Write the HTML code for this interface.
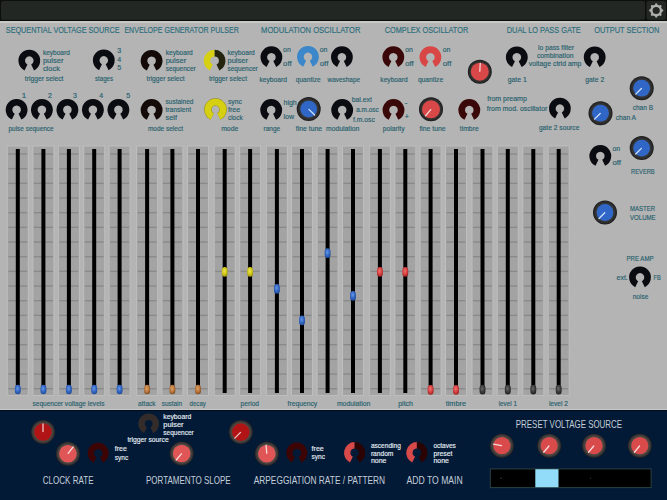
<!DOCTYPE html>
<html><head><meta charset="utf-8"><title>Synth</title>
<style>html,body{margin:0;padding:0;background:#b4b4b4;width:667px;height:500px;overflow:hidden}svg{display:block}text{font-family:"Liberation Sans",sans-serif}</style>
</head><body>
<svg width="667" height="500" viewBox="0 0 667 500" font-family='"Liberation Sans", sans-serif'><defs><radialGradient id="rg0" r="0.5"><stop offset="0.68" stop-color="#3a3939"/><stop offset="0.85" stop-color="#2f2e2e"/><stop offset="1" stop-color="#191919"/></radialGradient><radialGradient id="gb" cx="0.45" cy="0.4" r="0.62"><stop offset="0" stop-color="#6a98e4"/><stop offset="0.55" stop-color="#3468c4"/><stop offset="1" stop-color="#1e4a9a"/></radialGradient><radialGradient id="go" cx="0.45" cy="0.4" r="0.62"><stop offset="0" stop-color="#daa068"/><stop offset="0.55" stop-color="#bf7a3e"/><stop offset="1" stop-color="#7a4a22"/></radialGradient><radialGradient id="gy" cx="0.45" cy="0.4" r="0.62"><stop offset="0" stop-color="#ece650"/><stop offset="0.55" stop-color="#d2c81c"/><stop offset="1" stop-color="#9a9210"/></radialGradient><radialGradient id="gr" cx="0.45" cy="0.4" r="0.62"><stop offset="0" stop-color="#f07070"/><stop offset="0.55" stop-color="#d84444"/><stop offset="1" stop-color="#a02020"/></radialGradient><radialGradient id="gg" cx="0.45" cy="0.4" r="0.62"><stop offset="0" stop-color="#6a6a6a"/><stop offset="0.55" stop-color="#3c3c3c"/><stop offset="1" stop-color="#202020"/></radialGradient><radialGradient id="rg1" r="0.5"><stop offset="0.68" stop-color="#524d4b"/><stop offset="0.85" stop-color="#423e3c"/><stop offset="1" stop-color="#242221"/></radialGradient></defs><rect x="0" y="0" width="667" height="500" fill="#b4b4b4"/>
<rect x="0" y="0" width="667" height="21" fill="#0d0f0d"/>
<rect x="1" y="1" width="644" height="18.8" rx="2" fill="#232723"/>
<rect x="646.5" y="1" width="19.5" height="18.8" rx="2" fill="#232723"/>
<rect x="0" y="21.2" width="667" height="1.8" fill="#c9cbc9"/>
<circle cx="656.20" cy="4.50" r="1.15" fill="#aeb0ae"/><circle cx="660.44" cy="6.26" r="1.15" fill="#aeb0ae"/><circle cx="662.20" cy="10.50" r="1.15" fill="#aeb0ae"/><circle cx="660.44" cy="14.74" r="1.15" fill="#aeb0ae"/><circle cx="656.20" cy="16.50" r="1.15" fill="#aeb0ae"/><circle cx="651.96" cy="14.74" r="1.15" fill="#aeb0ae"/><circle cx="650.20" cy="10.50" r="1.15" fill="#aeb0ae"/><circle cx="651.96" cy="6.26" r="1.15" fill="#aeb0ae"/>
<circle cx="656.2" cy="10.5" r="4.75" fill="none" stroke="#aeb0ae" stroke-width="2.3"/>
<text x="5.8" y="32.9" font-size="9.0" fill="#2f6f7d" stroke="#2f6f7d" stroke-width="0.18" textLength="113.7" lengthAdjust="spacingAndGlyphs">SEQUENTIAL VOLTAGE SOURCE</text>
<text x="124.4" y="32.9" font-size="9.0" fill="#2f6f7d" stroke="#2f6f7d" stroke-width="0.18" textLength="114.4" lengthAdjust="spacingAndGlyphs">ENVELOPE GENERATOR PULSER</text>
<text x="261.1" y="32.9" font-size="9.0" fill="#2f6f7d" stroke="#2f6f7d" stroke-width="0.18" textLength="99.4" lengthAdjust="spacingAndGlyphs">MODULATION OSCILLATOR</text>
<text x="384.7" y="32.9" font-size="9.0" fill="#2f6f7d" stroke="#2f6f7d" stroke-width="0.18" textLength="83.5" lengthAdjust="spacingAndGlyphs">COMPLEX OSCILLATOR</text>
<text x="506.8" y="32.9" font-size="9.0" fill="#2f6f7d" stroke="#2f6f7d" stroke-width="0.18" textLength="73.9" lengthAdjust="spacingAndGlyphs">DUAL LO PASS GATE</text>
<text x="594.2" y="32.9" font-size="9.0" fill="#2f6f7d" stroke="#2f6f7d" stroke-width="0.18" textLength="65.2" lengthAdjust="spacingAndGlyphs">OUTPUT SECTION</text>
<path d="M25.97,67.43A7.60,7.60 0 1 1 32.63,67.43" fill="none" stroke="#0b0b12" stroke-width="6.60"/>
<text x="42.9" y="55.4" font-size="8" fill="#28616e" stroke="#28616e" stroke-width="0.18" textLength="26.9" lengthAdjust="spacingAndGlyphs">keyboard</text>
<text x="42.9" y="63.0" font-size="8" fill="#28616e" stroke="#28616e" stroke-width="0.18" textLength="20.5" lengthAdjust="spacingAndGlyphs">pulser</text>
<text x="42.9" y="70.6" font-size="8" fill="#28616e" stroke="#28616e" stroke-width="0.18" textLength="17.0" lengthAdjust="spacingAndGlyphs">clock</text>
<text x="24.8" y="80.8" font-size="8" fill="#28616e" stroke="#28616e" stroke-width="0.18" textLength="38.6" lengthAdjust="spacingAndGlyphs">trigger select</text>
<path d="M100.47,67.23A7.60,7.60 0 1 1 107.13,67.23" fill="none" stroke="#0b0b12" stroke-width="6.60"/>
<text x="117.3" y="53.2" font-size="8" fill="#28616e" stroke="#28616e" stroke-width="0.18" textLength="3.9" lengthAdjust="spacingAndGlyphs">3</text>
<text x="117.3" y="61.6" font-size="8" fill="#28616e" stroke="#28616e" stroke-width="0.18" textLength="3.9" lengthAdjust="spacingAndGlyphs">4</text>
<text x="117.3" y="69.8" font-size="8" fill="#28616e" stroke="#28616e" stroke-width="0.18" textLength="3.9" lengthAdjust="spacingAndGlyphs">5</text>
<text x="94.9" y="80.8" font-size="8" fill="#28616e" stroke="#28616e" stroke-width="0.18" textLength="18.2" lengthAdjust="spacingAndGlyphs">stages</text>
<path d="M13.27,116.63A7.60,7.60 0 1 1 19.93,116.63" fill="none" stroke="#0b0b12" stroke-width="6.60"/>
<path d="M38.57,116.63A7.60,7.60 0 1 1 45.23,116.63" fill="none" stroke="#0b0b12" stroke-width="6.60"/>
<path d="M64.07,116.63A7.60,7.60 0 1 1 70.73,116.63" fill="none" stroke="#0b0b12" stroke-width="6.60"/>
<path d="M89.57,116.63A7.60,7.60 0 1 1 96.23,116.63" fill="none" stroke="#0b0b12" stroke-width="6.60"/>
<path d="M115.07,116.63A7.60,7.60 0 1 1 121.73,116.63" fill="none" stroke="#0b0b12" stroke-width="6.60"/>
<text x="21.8" y="98.4" font-size="8" fill="#28616e" stroke="#28616e" stroke-width="0.18">1</text>
<text x="47.9" y="98.4" font-size="8" fill="#28616e" stroke="#28616e" stroke-width="0.18" textLength="3.9" lengthAdjust="spacingAndGlyphs">2</text>
<text x="73.0" y="98.4" font-size="8" fill="#28616e" stroke="#28616e" stroke-width="0.18" textLength="3.9" lengthAdjust="spacingAndGlyphs">3</text>
<text x="99.3" y="98.4" font-size="8" fill="#28616e" stroke="#28616e" stroke-width="0.18" textLength="3.9" lengthAdjust="spacingAndGlyphs">4</text>
<text x="126.2" y="98.4" font-size="8" fill="#28616e" stroke="#28616e" stroke-width="0.18" textLength="3.9" lengthAdjust="spacingAndGlyphs">5</text>
<text x="8.5" y="131.1" font-size="8" fill="#28616e" stroke="#28616e" stroke-width="0.18" textLength="45.1" lengthAdjust="spacingAndGlyphs">pulse sequence</text>
<path d="M148.27,67.63A7.60,7.60 0 1 1 154.93,67.63" fill="none" stroke="#140b08" stroke-width="6.60"/>
<text x="165.7" y="55.4" font-size="8" fill="#28616e" stroke="#28616e" stroke-width="0.18" textLength="27.1" lengthAdjust="spacingAndGlyphs">keyboard</text>
<text x="165.7" y="63.0" font-size="8" fill="#28616e" stroke="#28616e" stroke-width="0.18" textLength="20.5" lengthAdjust="spacingAndGlyphs">pulser</text>
<text x="165.7" y="70.6" font-size="8" fill="#28616e" stroke="#28616e" stroke-width="0.18" textLength="30.0" lengthAdjust="spacingAndGlyphs">sequencer</text>
<text x="146.6" y="80.8" font-size="8" fill="#28616e" stroke="#28616e" stroke-width="0.18" textLength="38.0" lengthAdjust="spacingAndGlyphs">trigger select</text>
<path d="M211.27,67.58A7.60,7.60 0 0 1 214.60,53.15" fill="none" stroke="#d6cf12" stroke-width="6.60"/>
<path d="M214.60,53.15A7.60,7.60 0 0 1 217.93,67.58" fill="none" stroke="#25250f" stroke-width="6.60"/>
<text x="227.5" y="55.4" font-size="8" fill="#28616e" stroke="#28616e" stroke-width="0.18" textLength="27.3" lengthAdjust="spacingAndGlyphs">keyboard</text>
<text x="227.5" y="63.0" font-size="8" fill="#28616e" stroke="#28616e" stroke-width="0.18" textLength="20.5" lengthAdjust="spacingAndGlyphs">pulser</text>
<text x="227.5" y="70.6" font-size="8" fill="#28616e" stroke="#28616e" stroke-width="0.18" textLength="30.2" lengthAdjust="spacingAndGlyphs">sequencer</text>
<text x="208.9" y="81.4" font-size="8" fill="#28616e" stroke="#28616e" stroke-width="0.18" textLength="38.1" lengthAdjust="spacingAndGlyphs">trigger select</text>
<path d="M148.27,116.83A7.60,7.60 0 1 1 154.93,116.83" fill="none" stroke="#140b08" stroke-width="6.60"/>
<text x="165.5" y="104.0" font-size="8" fill="#28616e" stroke="#28616e" stroke-width="0.18" textLength="27.9" lengthAdjust="spacingAndGlyphs">sustained</text>
<text x="165.5" y="111.8" font-size="8" fill="#28616e" stroke="#28616e" stroke-width="0.18" textLength="25.5" lengthAdjust="spacingAndGlyphs">transient</text>
<text x="165.5" y="119.6" font-size="8" fill="#28616e" stroke="#28616e" stroke-width="0.18" textLength="11.5" lengthAdjust="spacingAndGlyphs">self</text>
<text x="147.9" y="130.8" font-size="8" fill="#28616e" stroke="#28616e" stroke-width="0.18" textLength="35.1" lengthAdjust="spacingAndGlyphs">mode select</text>
<path d="M212.17,116.43A7.60,7.60 0 1 1 218.83,116.43" fill="none" stroke="#8a8a20" stroke-width="7.50"/>
<path d="M212.17,116.43A7.60,7.60 0 1 1 218.83,116.43" fill="none" stroke="#d6cf12" stroke-width="6.60"/>
<text x="227.9" y="104.0" font-size="8" fill="#28616e" stroke="#28616e" stroke-width="0.18" textLength="14.0" lengthAdjust="spacingAndGlyphs">sync</text>
<text x="227.9" y="111.8" font-size="8" fill="#28616e" stroke="#28616e" stroke-width="0.18" textLength="12.5" lengthAdjust="spacingAndGlyphs">free</text>
<text x="227.9" y="119.6" font-size="8" fill="#28616e" stroke="#28616e" stroke-width="0.18" textLength="14.8" lengthAdjust="spacingAndGlyphs">clock</text>
<text x="221.2" y="130.8" font-size="8" fill="#28616e" stroke="#28616e" stroke-width="0.18" textLength="17.0" lengthAdjust="spacingAndGlyphs">mode</text>
<path d="M268.07,64.03A7.60,7.60 0 1 1 274.73,64.03" fill="none" stroke="#0b0b12" stroke-width="6.60"/>
<text x="283.1" y="52.1" font-size="8" fill="#28616e" stroke="#28616e" stroke-width="0.18" textLength="7.6" lengthAdjust="spacingAndGlyphs">on</text>
<text x="283.1" y="66.1" font-size="8" fill="#28616e" stroke="#28616e" stroke-width="0.18" textLength="8.5" lengthAdjust="spacingAndGlyphs">off</text>
<path d="M304.62,63.68A7.60,7.60 0 1 1 311.28,63.68" fill="none" stroke="#3b87c9" stroke-width="6.60"/>
<text x="319.8" y="52.1" font-size="8" fill="#28616e" stroke="#28616e" stroke-width="0.18" textLength="7.6" lengthAdjust="spacingAndGlyphs">on</text>
<text x="319.8" y="66.1" font-size="8" fill="#28616e" stroke="#28616e" stroke-width="0.18" textLength="8.5" lengthAdjust="spacingAndGlyphs">off</text>
<path d="M338.57,64.03A7.60,7.60 0 1 1 345.23,64.03" fill="none" stroke="#0b0b12" stroke-width="6.60"/>
<text x="259.4" y="82.1" font-size="8" fill="#28616e" stroke="#28616e" stroke-width="0.18" textLength="27.6" lengthAdjust="spacingAndGlyphs">keyboard</text>
<text x="295.8" y="82.1" font-size="8" fill="#28616e" stroke="#28616e" stroke-width="0.18" textLength="24.8" lengthAdjust="spacingAndGlyphs">quantize</text>
<text x="327.6" y="82.1" font-size="8" fill="#28616e" stroke="#28616e" stroke-width="0.18" textLength="32.5" lengthAdjust="spacingAndGlyphs">waveshape</text>
<path d="M267.87,116.83A7.60,7.60 0 1 1 274.53,116.83" fill="none" stroke="#0b0b12" stroke-width="6.60"/>
<text x="283.5" y="105.3" font-size="8" fill="#28616e" stroke="#28616e" stroke-width="0.18" textLength="13.2" lengthAdjust="spacingAndGlyphs">high</text>
<text x="283.5" y="118.5" font-size="8" fill="#28616e" stroke="#28616e" stroke-width="0.18" textLength="10.6" lengthAdjust="spacingAndGlyphs">low</text>
<circle cx="308.7" cy="109.1" r="12.0" fill="url(#rg0)"/>
<circle cx="308.7" cy="109.1" r="8.4" fill="#3067c7"/>
<line x1="308.98" y1="109.38" x2="314.64" y2="115.04" stroke="#cfe0ff" stroke-width="1.3" stroke-linecap="round"/>
<path d="M338.87,116.83A7.60,7.60 0 1 1 345.53,116.83" fill="none" stroke="#0b0b12" stroke-width="6.60"/>
<text x="351.8" y="101.8" font-size="8" fill="#28616e" stroke="#28616e" stroke-width="0.18" textLength="20.0" lengthAdjust="spacingAndGlyphs">bal.ext</text>
<text x="356.2" y="112.1" font-size="8" fill="#28616e" stroke="#28616e" stroke-width="0.18" textLength="22.5" lengthAdjust="spacingAndGlyphs">a.m.osc</text>
<text x="352.9" y="121.5" font-size="8" fill="#28616e" stroke="#28616e" stroke-width="0.18" textLength="21.9" lengthAdjust="spacingAndGlyphs">f.m.osc</text>
<text x="263.6" y="130.8" font-size="8" fill="#28616e" stroke="#28616e" stroke-width="0.18" textLength="16.6" lengthAdjust="spacingAndGlyphs">range</text>
<text x="295.8" y="130.8" font-size="8" fill="#28616e" stroke="#28616e" stroke-width="0.18" textLength="26.3" lengthAdjust="spacingAndGlyphs">fine tune</text>
<text x="326.0" y="130.8" font-size="8" fill="#28616e" stroke="#28616e" stroke-width="0.18" textLength="33.2" lengthAdjust="spacingAndGlyphs">modulation</text>
<path d="M389.97,64.03A7.60,7.60 0 1 1 396.63,64.03" fill="none" stroke="#3a0808" stroke-width="6.60"/>
<text x="405.2" y="52.1" font-size="8" fill="#28616e" stroke="#28616e" stroke-width="0.18" textLength="7.6" lengthAdjust="spacingAndGlyphs">on</text>
<text x="405.2" y="66.1" font-size="8" fill="#28616e" stroke="#28616e" stroke-width="0.18" textLength="8.5" lengthAdjust="spacingAndGlyphs">off</text>
<path d="M427.07,64.03A7.60,7.60 0 1 1 433.73,64.03" fill="none" stroke="#d94646" stroke-width="6.60"/>
<text x="442.8" y="52.1" font-size="8" fill="#28616e" stroke="#28616e" stroke-width="0.18" textLength="7.6" lengthAdjust="spacingAndGlyphs">on</text>
<text x="442.8" y="66.1" font-size="8" fill="#28616e" stroke="#28616e" stroke-width="0.18" textLength="8.5" lengthAdjust="spacingAndGlyphs">off</text>
<circle cx="479.8" cy="71.7" r="12.0" fill="url(#rg0)"/>
<circle cx="479.8" cy="71.7" r="9.0" fill="#d94848"/>
<line x1="479.82" y1="71.30" x2="480.24" y2="63.31" stroke="#f6d6d6" stroke-width="1.3" stroke-linecap="round"/>
<text x="380.3" y="82.1" font-size="8" fill="#28616e" stroke="#28616e" stroke-width="0.18" textLength="27.4" lengthAdjust="spacingAndGlyphs">keyboard</text>
<text x="417.9" y="82.1" font-size="8" fill="#28616e" stroke="#28616e" stroke-width="0.18" textLength="25.3" lengthAdjust="spacingAndGlyphs">quantize</text>
<path d="M390.17,116.83A7.60,7.60 0 1 1 396.83,116.83" fill="none" stroke="#3a0808" stroke-width="6.60"/>
<text x="404.6" y="105.3" font-size="8" fill="#28616e" stroke="#28616e" stroke-width="0.18" textLength="3.0" lengthAdjust="spacingAndGlyphs">-</text>
<text x="404.4" y="119.4" font-size="8" fill="#28616e" stroke="#28616e" stroke-width="0.18" textLength="4.6" lengthAdjust="spacingAndGlyphs">+</text>
<circle cx="431" cy="109.3" r="12.0" fill="url(#rg0)"/>
<circle cx="431" cy="109.3" r="9.0" fill="#d94848"/>
<line x1="430.74" y1="109.61" x2="425.60" y2="115.73" stroke="#f6d6d6" stroke-width="1.3" stroke-linecap="round"/>
<path d="M465.97,116.83A7.60,7.60 0 1 1 472.63,116.83" fill="none" stroke="#3a0808" stroke-width="6.60"/>
<text x="382.8" y="130.6" font-size="8" fill="#28616e" stroke="#28616e" stroke-width="0.18" textLength="21.8" lengthAdjust="spacingAndGlyphs">polarity</text>
<text x="419.4" y="130.6" font-size="8" fill="#28616e" stroke="#28616e" stroke-width="0.18" textLength="26.2" lengthAdjust="spacingAndGlyphs">fine tune</text>
<text x="459.8" y="130.6" font-size="8" fill="#28616e" stroke="#28616e" stroke-width="0.18" textLength="18.9" lengthAdjust="spacingAndGlyphs">timbre</text>
<path d="M513.47,64.13A7.60,7.60 0 1 1 520.13,64.13" fill="none" stroke="#0b0b12" stroke-width="6.60"/>
<path d="M591.37,64.13A7.60,7.60 0 1 1 598.03,64.13" fill="none" stroke="#0b0b12" stroke-width="6.60"/>
<text x="538.1" y="50.4" font-size="8" fill="#28616e" stroke="#28616e" stroke-width="0.18" textLength="35.9" lengthAdjust="spacingAndGlyphs">lo pass filter</text>
<text x="536.9" y="58.2" font-size="8" fill="#28616e" stroke="#28616e" stroke-width="0.18" textLength="36.7" lengthAdjust="spacingAndGlyphs">combination</text>
<text x="528.7" y="66.4" font-size="8" fill="#28616e" stroke="#28616e" stroke-width="0.18" textLength="52.7" lengthAdjust="spacingAndGlyphs">voltage ctrld amp</text>
<text x="507.7" y="81.8" font-size="8" fill="#28616e" stroke="#28616e" stroke-width="0.18" textLength="19.1" lengthAdjust="spacingAndGlyphs">gate 1</text>
<text x="585.3" y="81.8" font-size="8" fill="#28616e" stroke="#28616e" stroke-width="0.18" textLength="18.9" lengthAdjust="spacingAndGlyphs">gate 2</text>
<text x="487.2" y="101.4" font-size="8" fill="#28616e" stroke="#28616e" stroke-width="0.18" textLength="39.6" lengthAdjust="spacingAndGlyphs">from preamp</text>
<text x="486.8" y="111.1" font-size="8" fill="#28616e" stroke="#28616e" stroke-width="0.18" textLength="60.5" lengthAdjust="spacingAndGlyphs">from mod. oscillator</text>
<path d="M556.57,115.43A7.60,7.60 0 1 1 563.23,115.43" fill="none" stroke="#0b0b12" stroke-width="6.60"/>
<text x="538.9" y="129.7" font-size="8" fill="#28616e" stroke="#28616e" stroke-width="0.18" textLength="40.5" lengthAdjust="spacingAndGlyphs">gate 2 source</text>
<circle cx="641.7" cy="88.2" r="12.0" fill="url(#rg0)"/>
<circle cx="641.7" cy="88.2" r="8.4" fill="#3067c7"/>
<line x1="641.42" y1="88.48" x2="635.76" y2="94.14" stroke="#cfe0ff" stroke-width="1.3" stroke-linecap="round"/>
<text x="632.7" y="110.0" font-size="8" fill="#28616e" stroke="#28616e" stroke-width="0.18" textLength="20.4" lengthAdjust="spacingAndGlyphs">chan B</text>
<circle cx="600.5" cy="113.2" r="12.0" fill="url(#rg0)"/>
<circle cx="600.5" cy="113.2" r="8.4" fill="#3067c7"/>
<line x1="600.22" y1="113.48" x2="594.56" y2="119.14" stroke="#cfe0ff" stroke-width="1.3" stroke-linecap="round"/>
<text x="615.7" y="120.3" font-size="8" fill="#28616e" stroke="#28616e" stroke-width="0.18" textLength="20.3" lengthAdjust="spacingAndGlyphs">chan A</text>
<path d="M596.97,162.83A7.60,7.60 0 1 1 603.63,162.83" fill="none" stroke="#0b0b12" stroke-width="6.60"/>
<text x="612.4" y="151.1" font-size="8" fill="#28616e" stroke="#28616e" stroke-width="0.18" textLength="7.6" lengthAdjust="spacingAndGlyphs">on</text>
<text x="612.4" y="165.0" font-size="8" fill="#28616e" stroke="#28616e" stroke-width="0.18" textLength="8.5" lengthAdjust="spacingAndGlyphs">off</text>
<circle cx="641.7" cy="148.1" r="12.0" fill="url(#rg0)"/>
<circle cx="641.7" cy="148.1" r="8.4" fill="#3067c7"/>
<line x1="641.42" y1="148.38" x2="635.76" y2="154.04" stroke="#cfe0ff" stroke-width="1.3" stroke-linecap="round"/>
<text x="631.1" y="174.3" font-size="8" fill="#28616e" stroke="#28616e" stroke-width="0.18" textLength="23.6" lengthAdjust="spacingAndGlyphs">REVERB</text>
<circle cx="605" cy="212.5" r="12.0" fill="url(#rg0)"/>
<circle cx="605" cy="212.5" r="8.4" fill="#3067c7"/>
<line x1="604.72" y1="212.78" x2="599.06" y2="218.44" stroke="#cfe0ff" stroke-width="1.3" stroke-linecap="round"/>
<text x="630.1" y="211.2" font-size="8" fill="#28616e" stroke="#28616e" stroke-width="0.18" textLength="24.9" lengthAdjust="spacingAndGlyphs">MASTER</text>
<text x="630.1" y="219.6" font-size="8" fill="#28616e" stroke="#28616e" stroke-width="0.18" textLength="25.5" lengthAdjust="spacingAndGlyphs">VOLUME</text>
<text x="626.5" y="261.4" font-size="8" fill="#28616e" stroke="#28616e" stroke-width="0.18" textLength="27.0" lengthAdjust="spacingAndGlyphs">PRE AMP</text>
<path d="M636.67,284.23A7.60,7.60 0 1 1 643.33,284.23" fill="none" stroke="#0b0b12" stroke-width="6.60"/>
<text x="616.6" y="280.1" font-size="8" fill="#28616e" stroke="#28616e" stroke-width="0.18" textLength="11.2" lengthAdjust="spacingAndGlyphs">ext.</text>
<text x="653.5" y="280.1" font-size="8" fill="#28616e" stroke="#28616e" stroke-width="0.18" textLength="7.3" lengthAdjust="spacingAndGlyphs">FB</text>
<text x="632.7" y="299.0" font-size="8" fill="#28616e" stroke="#28616e" stroke-width="0.18" textLength="15.6" lengthAdjust="spacingAndGlyphs">noise</text>
<rect x="6.80" y="145.5" width="22" height="250.5" fill="#bdbdbd"/>
<rect x="7.80" y="146.5" width="20" height="248.5" fill="#a3a3a3"/>
<rect x="8.30" y="153.30" width="19" height="1.4" fill="#8a8a8a"/>
<rect x="8.30" y="167.97" width="19" height="1.4" fill="#8a8a8a"/>
<rect x="8.30" y="182.64" width="19" height="1.4" fill="#8a8a8a"/>
<rect x="8.30" y="197.31" width="19" height="1.4" fill="#8a8a8a"/>
<rect x="8.30" y="211.98" width="19" height="1.4" fill="#8a8a8a"/>
<rect x="8.30" y="226.65" width="19" height="1.4" fill="#8a8a8a"/>
<rect x="8.30" y="241.32" width="19" height="1.4" fill="#8a8a8a"/>
<rect x="8.30" y="255.99" width="19" height="1.4" fill="#8a8a8a"/>
<rect x="8.30" y="270.66" width="19" height="1.4" fill="#8a8a8a"/>
<rect x="8.30" y="285.33" width="19" height="1.4" fill="#8a8a8a"/>
<rect x="8.30" y="300.00" width="19" height="1.4" fill="#8a8a8a"/>
<rect x="8.30" y="314.67" width="19" height="1.4" fill="#8a8a8a"/>
<rect x="8.30" y="329.34" width="19" height="1.4" fill="#8a8a8a"/>
<rect x="8.30" y="344.01" width="19" height="1.4" fill="#8a8a8a"/>
<rect x="8.30" y="358.68" width="19" height="1.4" fill="#8a8a8a"/>
<rect x="8.30" y="373.35" width="19" height="1.4" fill="#8a8a8a"/>
<rect x="8.30" y="388.02" width="19" height="1.4" fill="#8a8a8a"/>
<rect x="15.80" y="149" width="4" height="244" fill="#000"/>
<rect x="14.85" y="384.65" width="5.9" height="9.7" rx="2.9" ry="3.5" fill="url(#gb)"/>
<rect x="32.40" y="145.5" width="22" height="250.5" fill="#bdbdbd"/>
<rect x="33.40" y="146.5" width="20" height="248.5" fill="#a3a3a3"/>
<rect x="33.90" y="153.30" width="19" height="1.4" fill="#8a8a8a"/>
<rect x="33.90" y="167.97" width="19" height="1.4" fill="#8a8a8a"/>
<rect x="33.90" y="182.64" width="19" height="1.4" fill="#8a8a8a"/>
<rect x="33.90" y="197.31" width="19" height="1.4" fill="#8a8a8a"/>
<rect x="33.90" y="211.98" width="19" height="1.4" fill="#8a8a8a"/>
<rect x="33.90" y="226.65" width="19" height="1.4" fill="#8a8a8a"/>
<rect x="33.90" y="241.32" width="19" height="1.4" fill="#8a8a8a"/>
<rect x="33.90" y="255.99" width="19" height="1.4" fill="#8a8a8a"/>
<rect x="33.90" y="270.66" width="19" height="1.4" fill="#8a8a8a"/>
<rect x="33.90" y="285.33" width="19" height="1.4" fill="#8a8a8a"/>
<rect x="33.90" y="300.00" width="19" height="1.4" fill="#8a8a8a"/>
<rect x="33.90" y="314.67" width="19" height="1.4" fill="#8a8a8a"/>
<rect x="33.90" y="329.34" width="19" height="1.4" fill="#8a8a8a"/>
<rect x="33.90" y="344.01" width="19" height="1.4" fill="#8a8a8a"/>
<rect x="33.90" y="358.68" width="19" height="1.4" fill="#8a8a8a"/>
<rect x="33.90" y="373.35" width="19" height="1.4" fill="#8a8a8a"/>
<rect x="33.90" y="388.02" width="19" height="1.4" fill="#8a8a8a"/>
<rect x="41.40" y="149" width="4" height="244" fill="#000"/>
<rect x="40.45" y="384.65" width="5.9" height="9.7" rx="2.9" ry="3.5" fill="url(#gb)"/>
<rect x="57.90" y="145.5" width="22" height="250.5" fill="#bdbdbd"/>
<rect x="58.90" y="146.5" width="20" height="248.5" fill="#a3a3a3"/>
<rect x="59.40" y="153.30" width="19" height="1.4" fill="#8a8a8a"/>
<rect x="59.40" y="167.97" width="19" height="1.4" fill="#8a8a8a"/>
<rect x="59.40" y="182.64" width="19" height="1.4" fill="#8a8a8a"/>
<rect x="59.40" y="197.31" width="19" height="1.4" fill="#8a8a8a"/>
<rect x="59.40" y="211.98" width="19" height="1.4" fill="#8a8a8a"/>
<rect x="59.40" y="226.65" width="19" height="1.4" fill="#8a8a8a"/>
<rect x="59.40" y="241.32" width="19" height="1.4" fill="#8a8a8a"/>
<rect x="59.40" y="255.99" width="19" height="1.4" fill="#8a8a8a"/>
<rect x="59.40" y="270.66" width="19" height="1.4" fill="#8a8a8a"/>
<rect x="59.40" y="285.33" width="19" height="1.4" fill="#8a8a8a"/>
<rect x="59.40" y="300.00" width="19" height="1.4" fill="#8a8a8a"/>
<rect x="59.40" y="314.67" width="19" height="1.4" fill="#8a8a8a"/>
<rect x="59.40" y="329.34" width="19" height="1.4" fill="#8a8a8a"/>
<rect x="59.40" y="344.01" width="19" height="1.4" fill="#8a8a8a"/>
<rect x="59.40" y="358.68" width="19" height="1.4" fill="#8a8a8a"/>
<rect x="59.40" y="373.35" width="19" height="1.4" fill="#8a8a8a"/>
<rect x="59.40" y="388.02" width="19" height="1.4" fill="#8a8a8a"/>
<rect x="66.90" y="149" width="4" height="244" fill="#000"/>
<rect x="65.95" y="384.65" width="5.9" height="9.7" rx="2.9" ry="3.5" fill="url(#gb)"/>
<rect x="83.20" y="145.5" width="22" height="250.5" fill="#bdbdbd"/>
<rect x="84.20" y="146.5" width="20" height="248.5" fill="#a3a3a3"/>
<rect x="84.70" y="153.30" width="19" height="1.4" fill="#8a8a8a"/>
<rect x="84.70" y="167.97" width="19" height="1.4" fill="#8a8a8a"/>
<rect x="84.70" y="182.64" width="19" height="1.4" fill="#8a8a8a"/>
<rect x="84.70" y="197.31" width="19" height="1.4" fill="#8a8a8a"/>
<rect x="84.70" y="211.98" width="19" height="1.4" fill="#8a8a8a"/>
<rect x="84.70" y="226.65" width="19" height="1.4" fill="#8a8a8a"/>
<rect x="84.70" y="241.32" width="19" height="1.4" fill="#8a8a8a"/>
<rect x="84.70" y="255.99" width="19" height="1.4" fill="#8a8a8a"/>
<rect x="84.70" y="270.66" width="19" height="1.4" fill="#8a8a8a"/>
<rect x="84.70" y="285.33" width="19" height="1.4" fill="#8a8a8a"/>
<rect x="84.70" y="300.00" width="19" height="1.4" fill="#8a8a8a"/>
<rect x="84.70" y="314.67" width="19" height="1.4" fill="#8a8a8a"/>
<rect x="84.70" y="329.34" width="19" height="1.4" fill="#8a8a8a"/>
<rect x="84.70" y="344.01" width="19" height="1.4" fill="#8a8a8a"/>
<rect x="84.70" y="358.68" width="19" height="1.4" fill="#8a8a8a"/>
<rect x="84.70" y="373.35" width="19" height="1.4" fill="#8a8a8a"/>
<rect x="84.70" y="388.02" width="19" height="1.4" fill="#8a8a8a"/>
<rect x="92.20" y="149" width="4" height="244" fill="#000"/>
<rect x="91.25" y="384.65" width="5.9" height="9.7" rx="2.9" ry="3.5" fill="url(#gb)"/>
<rect x="108.60" y="145.5" width="22" height="250.5" fill="#bdbdbd"/>
<rect x="109.60" y="146.5" width="20" height="248.5" fill="#a3a3a3"/>
<rect x="110.10" y="153.30" width="19" height="1.4" fill="#8a8a8a"/>
<rect x="110.10" y="167.97" width="19" height="1.4" fill="#8a8a8a"/>
<rect x="110.10" y="182.64" width="19" height="1.4" fill="#8a8a8a"/>
<rect x="110.10" y="197.31" width="19" height="1.4" fill="#8a8a8a"/>
<rect x="110.10" y="211.98" width="19" height="1.4" fill="#8a8a8a"/>
<rect x="110.10" y="226.65" width="19" height="1.4" fill="#8a8a8a"/>
<rect x="110.10" y="241.32" width="19" height="1.4" fill="#8a8a8a"/>
<rect x="110.10" y="255.99" width="19" height="1.4" fill="#8a8a8a"/>
<rect x="110.10" y="270.66" width="19" height="1.4" fill="#8a8a8a"/>
<rect x="110.10" y="285.33" width="19" height="1.4" fill="#8a8a8a"/>
<rect x="110.10" y="300.00" width="19" height="1.4" fill="#8a8a8a"/>
<rect x="110.10" y="314.67" width="19" height="1.4" fill="#8a8a8a"/>
<rect x="110.10" y="329.34" width="19" height="1.4" fill="#8a8a8a"/>
<rect x="110.10" y="344.01" width="19" height="1.4" fill="#8a8a8a"/>
<rect x="110.10" y="358.68" width="19" height="1.4" fill="#8a8a8a"/>
<rect x="110.10" y="373.35" width="19" height="1.4" fill="#8a8a8a"/>
<rect x="110.10" y="388.02" width="19" height="1.4" fill="#8a8a8a"/>
<rect x="117.60" y="149" width="4" height="244" fill="#000"/>
<rect x="116.65" y="384.65" width="5.9" height="9.7" rx="2.9" ry="3.5" fill="url(#gb)"/>
<rect x="136.10" y="145.5" width="22" height="250.5" fill="#bdbdbd"/>
<rect x="137.10" y="146.5" width="20" height="248.5" fill="#a3a3a3"/>
<rect x="137.60" y="153.30" width="19" height="1.4" fill="#8a8a8a"/>
<rect x="137.60" y="167.97" width="19" height="1.4" fill="#8a8a8a"/>
<rect x="137.60" y="182.64" width="19" height="1.4" fill="#8a8a8a"/>
<rect x="137.60" y="197.31" width="19" height="1.4" fill="#8a8a8a"/>
<rect x="137.60" y="211.98" width="19" height="1.4" fill="#8a8a8a"/>
<rect x="137.60" y="226.65" width="19" height="1.4" fill="#8a8a8a"/>
<rect x="137.60" y="241.32" width="19" height="1.4" fill="#8a8a8a"/>
<rect x="137.60" y="255.99" width="19" height="1.4" fill="#8a8a8a"/>
<rect x="137.60" y="270.66" width="19" height="1.4" fill="#8a8a8a"/>
<rect x="137.60" y="285.33" width="19" height="1.4" fill="#8a8a8a"/>
<rect x="137.60" y="300.00" width="19" height="1.4" fill="#8a8a8a"/>
<rect x="137.60" y="314.67" width="19" height="1.4" fill="#8a8a8a"/>
<rect x="137.60" y="329.34" width="19" height="1.4" fill="#8a8a8a"/>
<rect x="137.60" y="344.01" width="19" height="1.4" fill="#8a8a8a"/>
<rect x="137.60" y="358.68" width="19" height="1.4" fill="#8a8a8a"/>
<rect x="137.60" y="373.35" width="19" height="1.4" fill="#8a8a8a"/>
<rect x="137.60" y="388.02" width="19" height="1.4" fill="#8a8a8a"/>
<rect x="145.10" y="149" width="4" height="244" fill="#000"/>
<rect x="144.15" y="384.65" width="5.9" height="9.7" rx="2.9" ry="3.5" fill="url(#go)"/>
<rect x="161.40" y="145.5" width="22" height="250.5" fill="#bdbdbd"/>
<rect x="162.40" y="146.5" width="20" height="248.5" fill="#a3a3a3"/>
<rect x="162.90" y="153.30" width="19" height="1.4" fill="#8a8a8a"/>
<rect x="162.90" y="167.97" width="19" height="1.4" fill="#8a8a8a"/>
<rect x="162.90" y="182.64" width="19" height="1.4" fill="#8a8a8a"/>
<rect x="162.90" y="197.31" width="19" height="1.4" fill="#8a8a8a"/>
<rect x="162.90" y="211.98" width="19" height="1.4" fill="#8a8a8a"/>
<rect x="162.90" y="226.65" width="19" height="1.4" fill="#8a8a8a"/>
<rect x="162.90" y="241.32" width="19" height="1.4" fill="#8a8a8a"/>
<rect x="162.90" y="255.99" width="19" height="1.4" fill="#8a8a8a"/>
<rect x="162.90" y="270.66" width="19" height="1.4" fill="#8a8a8a"/>
<rect x="162.90" y="285.33" width="19" height="1.4" fill="#8a8a8a"/>
<rect x="162.90" y="300.00" width="19" height="1.4" fill="#8a8a8a"/>
<rect x="162.90" y="314.67" width="19" height="1.4" fill="#8a8a8a"/>
<rect x="162.90" y="329.34" width="19" height="1.4" fill="#8a8a8a"/>
<rect x="162.90" y="344.01" width="19" height="1.4" fill="#8a8a8a"/>
<rect x="162.90" y="358.68" width="19" height="1.4" fill="#8a8a8a"/>
<rect x="162.90" y="373.35" width="19" height="1.4" fill="#8a8a8a"/>
<rect x="162.90" y="388.02" width="19" height="1.4" fill="#8a8a8a"/>
<rect x="170.40" y="149" width="4" height="244" fill="#000"/>
<rect x="169.45" y="384.65" width="5.9" height="9.7" rx="2.9" ry="3.5" fill="url(#go)"/>
<rect x="187.00" y="145.5" width="22" height="250.5" fill="#bdbdbd"/>
<rect x="188.00" y="146.5" width="20" height="248.5" fill="#a3a3a3"/>
<rect x="188.50" y="153.30" width="19" height="1.4" fill="#8a8a8a"/>
<rect x="188.50" y="167.97" width="19" height="1.4" fill="#8a8a8a"/>
<rect x="188.50" y="182.64" width="19" height="1.4" fill="#8a8a8a"/>
<rect x="188.50" y="197.31" width="19" height="1.4" fill="#8a8a8a"/>
<rect x="188.50" y="211.98" width="19" height="1.4" fill="#8a8a8a"/>
<rect x="188.50" y="226.65" width="19" height="1.4" fill="#8a8a8a"/>
<rect x="188.50" y="241.32" width="19" height="1.4" fill="#8a8a8a"/>
<rect x="188.50" y="255.99" width="19" height="1.4" fill="#8a8a8a"/>
<rect x="188.50" y="270.66" width="19" height="1.4" fill="#8a8a8a"/>
<rect x="188.50" y="285.33" width="19" height="1.4" fill="#8a8a8a"/>
<rect x="188.50" y="300.00" width="19" height="1.4" fill="#8a8a8a"/>
<rect x="188.50" y="314.67" width="19" height="1.4" fill="#8a8a8a"/>
<rect x="188.50" y="329.34" width="19" height="1.4" fill="#8a8a8a"/>
<rect x="188.50" y="344.01" width="19" height="1.4" fill="#8a8a8a"/>
<rect x="188.50" y="358.68" width="19" height="1.4" fill="#8a8a8a"/>
<rect x="188.50" y="373.35" width="19" height="1.4" fill="#8a8a8a"/>
<rect x="188.50" y="388.02" width="19" height="1.4" fill="#8a8a8a"/>
<rect x="196.00" y="149" width="4" height="244" fill="#000"/>
<rect x="195.05" y="384.65" width="5.9" height="9.7" rx="2.9" ry="3.5" fill="url(#go)"/>
<rect x="213.70" y="145.5" width="22" height="250.5" fill="#bdbdbd"/>
<rect x="214.70" y="146.5" width="20" height="248.5" fill="#a3a3a3"/>
<rect x="215.20" y="153.30" width="19" height="1.4" fill="#8a8a8a"/>
<rect x="215.20" y="167.97" width="19" height="1.4" fill="#8a8a8a"/>
<rect x="215.20" y="182.64" width="19" height="1.4" fill="#8a8a8a"/>
<rect x="215.20" y="197.31" width="19" height="1.4" fill="#8a8a8a"/>
<rect x="215.20" y="211.98" width="19" height="1.4" fill="#8a8a8a"/>
<rect x="215.20" y="226.65" width="19" height="1.4" fill="#8a8a8a"/>
<rect x="215.20" y="241.32" width="19" height="1.4" fill="#8a8a8a"/>
<rect x="215.20" y="255.99" width="19" height="1.4" fill="#8a8a8a"/>
<rect x="215.20" y="270.66" width="19" height="1.4" fill="#8a8a8a"/>
<rect x="215.20" y="285.33" width="19" height="1.4" fill="#8a8a8a"/>
<rect x="215.20" y="300.00" width="19" height="1.4" fill="#8a8a8a"/>
<rect x="215.20" y="314.67" width="19" height="1.4" fill="#8a8a8a"/>
<rect x="215.20" y="329.34" width="19" height="1.4" fill="#8a8a8a"/>
<rect x="215.20" y="344.01" width="19" height="1.4" fill="#8a8a8a"/>
<rect x="215.20" y="358.68" width="19" height="1.4" fill="#8a8a8a"/>
<rect x="215.20" y="373.35" width="19" height="1.4" fill="#8a8a8a"/>
<rect x="215.20" y="388.02" width="19" height="1.4" fill="#8a8a8a"/>
<rect x="222.70" y="149" width="4" height="244" fill="#000"/>
<rect x="221.75" y="267.05" width="5.9" height="9.7" rx="2.9" ry="3.5" fill="url(#gy)"/>
<rect x="239.10" y="145.5" width="22" height="250.5" fill="#bdbdbd"/>
<rect x="240.10" y="146.5" width="20" height="248.5" fill="#a3a3a3"/>
<rect x="240.60" y="153.30" width="19" height="1.4" fill="#8a8a8a"/>
<rect x="240.60" y="167.97" width="19" height="1.4" fill="#8a8a8a"/>
<rect x="240.60" y="182.64" width="19" height="1.4" fill="#8a8a8a"/>
<rect x="240.60" y="197.31" width="19" height="1.4" fill="#8a8a8a"/>
<rect x="240.60" y="211.98" width="19" height="1.4" fill="#8a8a8a"/>
<rect x="240.60" y="226.65" width="19" height="1.4" fill="#8a8a8a"/>
<rect x="240.60" y="241.32" width="19" height="1.4" fill="#8a8a8a"/>
<rect x="240.60" y="255.99" width="19" height="1.4" fill="#8a8a8a"/>
<rect x="240.60" y="270.66" width="19" height="1.4" fill="#8a8a8a"/>
<rect x="240.60" y="285.33" width="19" height="1.4" fill="#8a8a8a"/>
<rect x="240.60" y="300.00" width="19" height="1.4" fill="#8a8a8a"/>
<rect x="240.60" y="314.67" width="19" height="1.4" fill="#8a8a8a"/>
<rect x="240.60" y="329.34" width="19" height="1.4" fill="#8a8a8a"/>
<rect x="240.60" y="344.01" width="19" height="1.4" fill="#8a8a8a"/>
<rect x="240.60" y="358.68" width="19" height="1.4" fill="#8a8a8a"/>
<rect x="240.60" y="373.35" width="19" height="1.4" fill="#8a8a8a"/>
<rect x="240.60" y="388.02" width="19" height="1.4" fill="#8a8a8a"/>
<rect x="248.10" y="149" width="4" height="244" fill="#000"/>
<rect x="247.15" y="267.05" width="5.9" height="9.7" rx="2.9" ry="3.5" fill="url(#gy)"/>
<rect x="265.90" y="145.5" width="22" height="250.5" fill="#bdbdbd"/>
<rect x="266.90" y="146.5" width="20" height="248.5" fill="#a3a3a3"/>
<rect x="267.40" y="153.30" width="19" height="1.4" fill="#8a8a8a"/>
<rect x="267.40" y="167.97" width="19" height="1.4" fill="#8a8a8a"/>
<rect x="267.40" y="182.64" width="19" height="1.4" fill="#8a8a8a"/>
<rect x="267.40" y="197.31" width="19" height="1.4" fill="#8a8a8a"/>
<rect x="267.40" y="211.98" width="19" height="1.4" fill="#8a8a8a"/>
<rect x="267.40" y="226.65" width="19" height="1.4" fill="#8a8a8a"/>
<rect x="267.40" y="241.32" width="19" height="1.4" fill="#8a8a8a"/>
<rect x="267.40" y="255.99" width="19" height="1.4" fill="#8a8a8a"/>
<rect x="267.40" y="270.66" width="19" height="1.4" fill="#8a8a8a"/>
<rect x="267.40" y="285.33" width="19" height="1.4" fill="#8a8a8a"/>
<rect x="267.40" y="300.00" width="19" height="1.4" fill="#8a8a8a"/>
<rect x="267.40" y="314.67" width="19" height="1.4" fill="#8a8a8a"/>
<rect x="267.40" y="329.34" width="19" height="1.4" fill="#8a8a8a"/>
<rect x="267.40" y="344.01" width="19" height="1.4" fill="#8a8a8a"/>
<rect x="267.40" y="358.68" width="19" height="1.4" fill="#8a8a8a"/>
<rect x="267.40" y="373.35" width="19" height="1.4" fill="#8a8a8a"/>
<rect x="267.40" y="388.02" width="19" height="1.4" fill="#8a8a8a"/>
<rect x="274.90" y="149" width="4" height="244" fill="#000"/>
<rect x="273.95" y="284.05" width="5.9" height="9.7" rx="2.9" ry="3.5" fill="url(#gb)"/>
<rect x="291.00" y="145.5" width="22" height="250.5" fill="#bdbdbd"/>
<rect x="292.00" y="146.5" width="20" height="248.5" fill="#a3a3a3"/>
<rect x="292.50" y="153.30" width="19" height="1.4" fill="#8a8a8a"/>
<rect x="292.50" y="167.97" width="19" height="1.4" fill="#8a8a8a"/>
<rect x="292.50" y="182.64" width="19" height="1.4" fill="#8a8a8a"/>
<rect x="292.50" y="197.31" width="19" height="1.4" fill="#8a8a8a"/>
<rect x="292.50" y="211.98" width="19" height="1.4" fill="#8a8a8a"/>
<rect x="292.50" y="226.65" width="19" height="1.4" fill="#8a8a8a"/>
<rect x="292.50" y="241.32" width="19" height="1.4" fill="#8a8a8a"/>
<rect x="292.50" y="255.99" width="19" height="1.4" fill="#8a8a8a"/>
<rect x="292.50" y="270.66" width="19" height="1.4" fill="#8a8a8a"/>
<rect x="292.50" y="285.33" width="19" height="1.4" fill="#8a8a8a"/>
<rect x="292.50" y="300.00" width="19" height="1.4" fill="#8a8a8a"/>
<rect x="292.50" y="314.67" width="19" height="1.4" fill="#8a8a8a"/>
<rect x="292.50" y="329.34" width="19" height="1.4" fill="#8a8a8a"/>
<rect x="292.50" y="344.01" width="19" height="1.4" fill="#8a8a8a"/>
<rect x="292.50" y="358.68" width="19" height="1.4" fill="#8a8a8a"/>
<rect x="292.50" y="373.35" width="19" height="1.4" fill="#8a8a8a"/>
<rect x="292.50" y="388.02" width="19" height="1.4" fill="#8a8a8a"/>
<rect x="300.00" y="149" width="4" height="244" fill="#000"/>
<rect x="299.05" y="315.55" width="5.9" height="9.7" rx="2.9" ry="3.5" fill="url(#gb)"/>
<rect x="316.60" y="145.5" width="22" height="250.5" fill="#bdbdbd"/>
<rect x="317.60" y="146.5" width="20" height="248.5" fill="#a3a3a3"/>
<rect x="318.10" y="153.30" width="19" height="1.4" fill="#8a8a8a"/>
<rect x="318.10" y="167.97" width="19" height="1.4" fill="#8a8a8a"/>
<rect x="318.10" y="182.64" width="19" height="1.4" fill="#8a8a8a"/>
<rect x="318.10" y="197.31" width="19" height="1.4" fill="#8a8a8a"/>
<rect x="318.10" y="211.98" width="19" height="1.4" fill="#8a8a8a"/>
<rect x="318.10" y="226.65" width="19" height="1.4" fill="#8a8a8a"/>
<rect x="318.10" y="241.32" width="19" height="1.4" fill="#8a8a8a"/>
<rect x="318.10" y="255.99" width="19" height="1.4" fill="#8a8a8a"/>
<rect x="318.10" y="270.66" width="19" height="1.4" fill="#8a8a8a"/>
<rect x="318.10" y="285.33" width="19" height="1.4" fill="#8a8a8a"/>
<rect x="318.10" y="300.00" width="19" height="1.4" fill="#8a8a8a"/>
<rect x="318.10" y="314.67" width="19" height="1.4" fill="#8a8a8a"/>
<rect x="318.10" y="329.34" width="19" height="1.4" fill="#8a8a8a"/>
<rect x="318.10" y="344.01" width="19" height="1.4" fill="#8a8a8a"/>
<rect x="318.10" y="358.68" width="19" height="1.4" fill="#8a8a8a"/>
<rect x="318.10" y="373.35" width="19" height="1.4" fill="#8a8a8a"/>
<rect x="318.10" y="388.02" width="19" height="1.4" fill="#8a8a8a"/>
<rect x="325.60" y="149" width="4" height="244" fill="#000"/>
<rect x="324.65" y="248.35" width="5.9" height="9.7" rx="2.9" ry="3.5" fill="url(#gb)"/>
<rect x="342.00" y="145.5" width="22" height="250.5" fill="#bdbdbd"/>
<rect x="343.00" y="146.5" width="20" height="248.5" fill="#a3a3a3"/>
<rect x="343.50" y="153.30" width="19" height="1.4" fill="#8a8a8a"/>
<rect x="343.50" y="167.97" width="19" height="1.4" fill="#8a8a8a"/>
<rect x="343.50" y="182.64" width="19" height="1.4" fill="#8a8a8a"/>
<rect x="343.50" y="197.31" width="19" height="1.4" fill="#8a8a8a"/>
<rect x="343.50" y="211.98" width="19" height="1.4" fill="#8a8a8a"/>
<rect x="343.50" y="226.65" width="19" height="1.4" fill="#8a8a8a"/>
<rect x="343.50" y="241.32" width="19" height="1.4" fill="#8a8a8a"/>
<rect x="343.50" y="255.99" width="19" height="1.4" fill="#8a8a8a"/>
<rect x="343.50" y="270.66" width="19" height="1.4" fill="#8a8a8a"/>
<rect x="343.50" y="285.33" width="19" height="1.4" fill="#8a8a8a"/>
<rect x="343.50" y="300.00" width="19" height="1.4" fill="#8a8a8a"/>
<rect x="343.50" y="314.67" width="19" height="1.4" fill="#8a8a8a"/>
<rect x="343.50" y="329.34" width="19" height="1.4" fill="#8a8a8a"/>
<rect x="343.50" y="344.01" width="19" height="1.4" fill="#8a8a8a"/>
<rect x="343.50" y="358.68" width="19" height="1.4" fill="#8a8a8a"/>
<rect x="343.50" y="373.35" width="19" height="1.4" fill="#8a8a8a"/>
<rect x="343.50" y="388.02" width="19" height="1.4" fill="#8a8a8a"/>
<rect x="351.00" y="149" width="4" height="244" fill="#000"/>
<rect x="350.05" y="290.95" width="5.9" height="9.7" rx="2.9" ry="3.5" fill="url(#gb)"/>
<rect x="368.90" y="145.5" width="22" height="250.5" fill="#bdbdbd"/>
<rect x="369.90" y="146.5" width="20" height="248.5" fill="#a3a3a3"/>
<rect x="370.40" y="153.30" width="19" height="1.4" fill="#8a8a8a"/>
<rect x="370.40" y="167.97" width="19" height="1.4" fill="#8a8a8a"/>
<rect x="370.40" y="182.64" width="19" height="1.4" fill="#8a8a8a"/>
<rect x="370.40" y="197.31" width="19" height="1.4" fill="#8a8a8a"/>
<rect x="370.40" y="211.98" width="19" height="1.4" fill="#8a8a8a"/>
<rect x="370.40" y="226.65" width="19" height="1.4" fill="#8a8a8a"/>
<rect x="370.40" y="241.32" width="19" height="1.4" fill="#8a8a8a"/>
<rect x="370.40" y="255.99" width="19" height="1.4" fill="#8a8a8a"/>
<rect x="370.40" y="270.66" width="19" height="1.4" fill="#8a8a8a"/>
<rect x="370.40" y="285.33" width="19" height="1.4" fill="#8a8a8a"/>
<rect x="370.40" y="300.00" width="19" height="1.4" fill="#8a8a8a"/>
<rect x="370.40" y="314.67" width="19" height="1.4" fill="#8a8a8a"/>
<rect x="370.40" y="329.34" width="19" height="1.4" fill="#8a8a8a"/>
<rect x="370.40" y="344.01" width="19" height="1.4" fill="#8a8a8a"/>
<rect x="370.40" y="358.68" width="19" height="1.4" fill="#8a8a8a"/>
<rect x="370.40" y="373.35" width="19" height="1.4" fill="#8a8a8a"/>
<rect x="370.40" y="388.02" width="19" height="1.4" fill="#8a8a8a"/>
<rect x="377.90" y="149" width="4" height="244" fill="#000"/>
<rect x="376.95" y="267.05" width="5.9" height="9.7" rx="2.9" ry="3.5" fill="url(#gr)"/>
<rect x="394.30" y="145.5" width="22" height="250.5" fill="#bdbdbd"/>
<rect x="395.30" y="146.5" width="20" height="248.5" fill="#a3a3a3"/>
<rect x="395.80" y="153.30" width="19" height="1.4" fill="#8a8a8a"/>
<rect x="395.80" y="167.97" width="19" height="1.4" fill="#8a8a8a"/>
<rect x="395.80" y="182.64" width="19" height="1.4" fill="#8a8a8a"/>
<rect x="395.80" y="197.31" width="19" height="1.4" fill="#8a8a8a"/>
<rect x="395.80" y="211.98" width="19" height="1.4" fill="#8a8a8a"/>
<rect x="395.80" y="226.65" width="19" height="1.4" fill="#8a8a8a"/>
<rect x="395.80" y="241.32" width="19" height="1.4" fill="#8a8a8a"/>
<rect x="395.80" y="255.99" width="19" height="1.4" fill="#8a8a8a"/>
<rect x="395.80" y="270.66" width="19" height="1.4" fill="#8a8a8a"/>
<rect x="395.80" y="285.33" width="19" height="1.4" fill="#8a8a8a"/>
<rect x="395.80" y="300.00" width="19" height="1.4" fill="#8a8a8a"/>
<rect x="395.80" y="314.67" width="19" height="1.4" fill="#8a8a8a"/>
<rect x="395.80" y="329.34" width="19" height="1.4" fill="#8a8a8a"/>
<rect x="395.80" y="344.01" width="19" height="1.4" fill="#8a8a8a"/>
<rect x="395.80" y="358.68" width="19" height="1.4" fill="#8a8a8a"/>
<rect x="395.80" y="373.35" width="19" height="1.4" fill="#8a8a8a"/>
<rect x="395.80" y="388.02" width="19" height="1.4" fill="#8a8a8a"/>
<rect x="403.30" y="149" width="4" height="244" fill="#000"/>
<rect x="402.35" y="267.05" width="5.9" height="9.7" rx="2.9" ry="3.5" fill="url(#gr)"/>
<rect x="419.60" y="145.5" width="22" height="250.5" fill="#bdbdbd"/>
<rect x="420.60" y="146.5" width="20" height="248.5" fill="#a3a3a3"/>
<rect x="421.10" y="153.30" width="19" height="1.4" fill="#8a8a8a"/>
<rect x="421.10" y="167.97" width="19" height="1.4" fill="#8a8a8a"/>
<rect x="421.10" y="182.64" width="19" height="1.4" fill="#8a8a8a"/>
<rect x="421.10" y="197.31" width="19" height="1.4" fill="#8a8a8a"/>
<rect x="421.10" y="211.98" width="19" height="1.4" fill="#8a8a8a"/>
<rect x="421.10" y="226.65" width="19" height="1.4" fill="#8a8a8a"/>
<rect x="421.10" y="241.32" width="19" height="1.4" fill="#8a8a8a"/>
<rect x="421.10" y="255.99" width="19" height="1.4" fill="#8a8a8a"/>
<rect x="421.10" y="270.66" width="19" height="1.4" fill="#8a8a8a"/>
<rect x="421.10" y="285.33" width="19" height="1.4" fill="#8a8a8a"/>
<rect x="421.10" y="300.00" width="19" height="1.4" fill="#8a8a8a"/>
<rect x="421.10" y="314.67" width="19" height="1.4" fill="#8a8a8a"/>
<rect x="421.10" y="329.34" width="19" height="1.4" fill="#8a8a8a"/>
<rect x="421.10" y="344.01" width="19" height="1.4" fill="#8a8a8a"/>
<rect x="421.10" y="358.68" width="19" height="1.4" fill="#8a8a8a"/>
<rect x="421.10" y="373.35" width="19" height="1.4" fill="#8a8a8a"/>
<rect x="421.10" y="388.02" width="19" height="1.4" fill="#8a8a8a"/>
<rect x="428.60" y="149" width="4" height="244" fill="#000"/>
<rect x="427.65" y="384.95" width="5.9" height="9.7" rx="2.9" ry="3.5" fill="url(#gr)"/>
<rect x="445.00" y="145.5" width="22" height="250.5" fill="#bdbdbd"/>
<rect x="446.00" y="146.5" width="20" height="248.5" fill="#a3a3a3"/>
<rect x="446.50" y="153.30" width="19" height="1.4" fill="#8a8a8a"/>
<rect x="446.50" y="167.97" width="19" height="1.4" fill="#8a8a8a"/>
<rect x="446.50" y="182.64" width="19" height="1.4" fill="#8a8a8a"/>
<rect x="446.50" y="197.31" width="19" height="1.4" fill="#8a8a8a"/>
<rect x="446.50" y="211.98" width="19" height="1.4" fill="#8a8a8a"/>
<rect x="446.50" y="226.65" width="19" height="1.4" fill="#8a8a8a"/>
<rect x="446.50" y="241.32" width="19" height="1.4" fill="#8a8a8a"/>
<rect x="446.50" y="255.99" width="19" height="1.4" fill="#8a8a8a"/>
<rect x="446.50" y="270.66" width="19" height="1.4" fill="#8a8a8a"/>
<rect x="446.50" y="285.33" width="19" height="1.4" fill="#8a8a8a"/>
<rect x="446.50" y="300.00" width="19" height="1.4" fill="#8a8a8a"/>
<rect x="446.50" y="314.67" width="19" height="1.4" fill="#8a8a8a"/>
<rect x="446.50" y="329.34" width="19" height="1.4" fill="#8a8a8a"/>
<rect x="446.50" y="344.01" width="19" height="1.4" fill="#8a8a8a"/>
<rect x="446.50" y="358.68" width="19" height="1.4" fill="#8a8a8a"/>
<rect x="446.50" y="373.35" width="19" height="1.4" fill="#8a8a8a"/>
<rect x="446.50" y="388.02" width="19" height="1.4" fill="#8a8a8a"/>
<rect x="454.00" y="149" width="4" height="244" fill="#000"/>
<rect x="453.05" y="384.95" width="5.9" height="9.7" rx="2.9" ry="3.5" fill="url(#gr)"/>
<rect x="471.50" y="145.5" width="22" height="250.5" fill="#bdbdbd"/>
<rect x="472.50" y="146.5" width="20" height="248.5" fill="#a3a3a3"/>
<rect x="473.00" y="153.30" width="19" height="1.4" fill="#8a8a8a"/>
<rect x="473.00" y="167.97" width="19" height="1.4" fill="#8a8a8a"/>
<rect x="473.00" y="182.64" width="19" height="1.4" fill="#8a8a8a"/>
<rect x="473.00" y="197.31" width="19" height="1.4" fill="#8a8a8a"/>
<rect x="473.00" y="211.98" width="19" height="1.4" fill="#8a8a8a"/>
<rect x="473.00" y="226.65" width="19" height="1.4" fill="#8a8a8a"/>
<rect x="473.00" y="241.32" width="19" height="1.4" fill="#8a8a8a"/>
<rect x="473.00" y="255.99" width="19" height="1.4" fill="#8a8a8a"/>
<rect x="473.00" y="270.66" width="19" height="1.4" fill="#8a8a8a"/>
<rect x="473.00" y="285.33" width="19" height="1.4" fill="#8a8a8a"/>
<rect x="473.00" y="300.00" width="19" height="1.4" fill="#8a8a8a"/>
<rect x="473.00" y="314.67" width="19" height="1.4" fill="#8a8a8a"/>
<rect x="473.00" y="329.34" width="19" height="1.4" fill="#8a8a8a"/>
<rect x="473.00" y="344.01" width="19" height="1.4" fill="#8a8a8a"/>
<rect x="473.00" y="358.68" width="19" height="1.4" fill="#8a8a8a"/>
<rect x="473.00" y="373.35" width="19" height="1.4" fill="#8a8a8a"/>
<rect x="473.00" y="388.02" width="19" height="1.4" fill="#8a8a8a"/>
<rect x="480.50" y="149" width="4" height="244" fill="#000"/>
<rect x="479.55" y="384.75" width="5.9" height="9.7" rx="2.9" ry="3.5" fill="url(#gg)"/>
<rect x="496.80" y="145.5" width="22" height="250.5" fill="#bdbdbd"/>
<rect x="497.80" y="146.5" width="20" height="248.5" fill="#a3a3a3"/>
<rect x="498.30" y="153.30" width="19" height="1.4" fill="#8a8a8a"/>
<rect x="498.30" y="167.97" width="19" height="1.4" fill="#8a8a8a"/>
<rect x="498.30" y="182.64" width="19" height="1.4" fill="#8a8a8a"/>
<rect x="498.30" y="197.31" width="19" height="1.4" fill="#8a8a8a"/>
<rect x="498.30" y="211.98" width="19" height="1.4" fill="#8a8a8a"/>
<rect x="498.30" y="226.65" width="19" height="1.4" fill="#8a8a8a"/>
<rect x="498.30" y="241.32" width="19" height="1.4" fill="#8a8a8a"/>
<rect x="498.30" y="255.99" width="19" height="1.4" fill="#8a8a8a"/>
<rect x="498.30" y="270.66" width="19" height="1.4" fill="#8a8a8a"/>
<rect x="498.30" y="285.33" width="19" height="1.4" fill="#8a8a8a"/>
<rect x="498.30" y="300.00" width="19" height="1.4" fill="#8a8a8a"/>
<rect x="498.30" y="314.67" width="19" height="1.4" fill="#8a8a8a"/>
<rect x="498.30" y="329.34" width="19" height="1.4" fill="#8a8a8a"/>
<rect x="498.30" y="344.01" width="19" height="1.4" fill="#8a8a8a"/>
<rect x="498.30" y="358.68" width="19" height="1.4" fill="#8a8a8a"/>
<rect x="498.30" y="373.35" width="19" height="1.4" fill="#8a8a8a"/>
<rect x="498.30" y="388.02" width="19" height="1.4" fill="#8a8a8a"/>
<rect x="505.80" y="149" width="4" height="244" fill="#000"/>
<rect x="504.85" y="384.75" width="5.9" height="9.7" rx="2.9" ry="3.5" fill="url(#gg)"/>
<rect x="522.30" y="145.5" width="22" height="250.5" fill="#bdbdbd"/>
<rect x="523.30" y="146.5" width="20" height="248.5" fill="#a3a3a3"/>
<rect x="523.80" y="153.30" width="19" height="1.4" fill="#8a8a8a"/>
<rect x="523.80" y="167.97" width="19" height="1.4" fill="#8a8a8a"/>
<rect x="523.80" y="182.64" width="19" height="1.4" fill="#8a8a8a"/>
<rect x="523.80" y="197.31" width="19" height="1.4" fill="#8a8a8a"/>
<rect x="523.80" y="211.98" width="19" height="1.4" fill="#8a8a8a"/>
<rect x="523.80" y="226.65" width="19" height="1.4" fill="#8a8a8a"/>
<rect x="523.80" y="241.32" width="19" height="1.4" fill="#8a8a8a"/>
<rect x="523.80" y="255.99" width="19" height="1.4" fill="#8a8a8a"/>
<rect x="523.80" y="270.66" width="19" height="1.4" fill="#8a8a8a"/>
<rect x="523.80" y="285.33" width="19" height="1.4" fill="#8a8a8a"/>
<rect x="523.80" y="300.00" width="19" height="1.4" fill="#8a8a8a"/>
<rect x="523.80" y="314.67" width="19" height="1.4" fill="#8a8a8a"/>
<rect x="523.80" y="329.34" width="19" height="1.4" fill="#8a8a8a"/>
<rect x="523.80" y="344.01" width="19" height="1.4" fill="#8a8a8a"/>
<rect x="523.80" y="358.68" width="19" height="1.4" fill="#8a8a8a"/>
<rect x="523.80" y="373.35" width="19" height="1.4" fill="#8a8a8a"/>
<rect x="523.80" y="388.02" width="19" height="1.4" fill="#8a8a8a"/>
<rect x="531.30" y="149" width="4" height="244" fill="#000"/>
<rect x="530.35" y="384.75" width="5.9" height="9.7" rx="2.9" ry="3.5" fill="url(#gg)"/>
<rect x="547.70" y="145.5" width="22" height="250.5" fill="#bdbdbd"/>
<rect x="548.70" y="146.5" width="20" height="248.5" fill="#a3a3a3"/>
<rect x="549.20" y="153.30" width="19" height="1.4" fill="#8a8a8a"/>
<rect x="549.20" y="167.97" width="19" height="1.4" fill="#8a8a8a"/>
<rect x="549.20" y="182.64" width="19" height="1.4" fill="#8a8a8a"/>
<rect x="549.20" y="197.31" width="19" height="1.4" fill="#8a8a8a"/>
<rect x="549.20" y="211.98" width="19" height="1.4" fill="#8a8a8a"/>
<rect x="549.20" y="226.65" width="19" height="1.4" fill="#8a8a8a"/>
<rect x="549.20" y="241.32" width="19" height="1.4" fill="#8a8a8a"/>
<rect x="549.20" y="255.99" width="19" height="1.4" fill="#8a8a8a"/>
<rect x="549.20" y="270.66" width="19" height="1.4" fill="#8a8a8a"/>
<rect x="549.20" y="285.33" width="19" height="1.4" fill="#8a8a8a"/>
<rect x="549.20" y="300.00" width="19" height="1.4" fill="#8a8a8a"/>
<rect x="549.20" y="314.67" width="19" height="1.4" fill="#8a8a8a"/>
<rect x="549.20" y="329.34" width="19" height="1.4" fill="#8a8a8a"/>
<rect x="549.20" y="344.01" width="19" height="1.4" fill="#8a8a8a"/>
<rect x="549.20" y="358.68" width="19" height="1.4" fill="#8a8a8a"/>
<rect x="549.20" y="373.35" width="19" height="1.4" fill="#8a8a8a"/>
<rect x="549.20" y="388.02" width="19" height="1.4" fill="#8a8a8a"/>
<rect x="556.70" y="149" width="4" height="244" fill="#000"/>
<rect x="555.75" y="384.75" width="5.9" height="9.7" rx="2.9" ry="3.5" fill="url(#gg)"/>
<text x="32.5" y="406.4" font-size="8" fill="#28616e" stroke="#28616e" stroke-width="0.18" textLength="72.0" lengthAdjust="spacingAndGlyphs">sequencer voltage levels</text>
<text x="138.1" y="406.4" font-size="8" fill="#28616e" stroke="#28616e" stroke-width="0.18" textLength="17.5" lengthAdjust="spacingAndGlyphs">attack</text>
<text x="161.8" y="406.4" font-size="8" fill="#28616e" stroke="#28616e" stroke-width="0.18" textLength="20.3" lengthAdjust="spacingAndGlyphs">sustain</text>
<text x="189.6" y="406.4" font-size="8" fill="#28616e" stroke="#28616e" stroke-width="0.18" textLength="16.2" lengthAdjust="spacingAndGlyphs">decay</text>
<text x="240.6" y="406.4" font-size="8" fill="#28616e" stroke="#28616e" stroke-width="0.18" textLength="18.4" lengthAdjust="spacingAndGlyphs">period</text>
<text x="287.5" y="406.4" font-size="8" fill="#28616e" stroke="#28616e" stroke-width="0.18" textLength="29.7" lengthAdjust="spacingAndGlyphs">frequency</text>
<text x="336.9" y="406.4" font-size="8" fill="#28616e" stroke="#28616e" stroke-width="0.18" textLength="33.5" lengthAdjust="spacingAndGlyphs">modulation</text>
<text x="398.2" y="406.4" font-size="8" fill="#28616e" stroke="#28616e" stroke-width="0.18" textLength="14.8" lengthAdjust="spacingAndGlyphs">pitch</text>
<text x="445.7" y="406.4" font-size="8" fill="#28616e" stroke="#28616e" stroke-width="0.18" textLength="20.4" lengthAdjust="spacingAndGlyphs">timbre</text>
<text x="498.7" y="406.4" font-size="8" fill="#28616e" stroke="#28616e" stroke-width="0.18" textLength="18.3" lengthAdjust="spacingAndGlyphs">level 1</text>
<text x="548.9" y="406.4" font-size="8" fill="#28616e" stroke="#28616e" stroke-width="0.18" textLength="19.1" lengthAdjust="spacingAndGlyphs">level 2</text>
<rect x="0" y="409" width="667" height="1" fill="#c9c9c9"/>
<rect x="0" y="410" width="667" height="90" fill="#021a36"/>
<rect x="0" y="410" width="667" height="1" fill="#020b1c"/>
<circle cx="43" cy="432" r="12.0" fill="url(#rg1)"/>
<circle cx="43" cy="432" r="8.8" fill="#b01414"/>
<line x1="43.00" y1="431.60" x2="43.00" y2="424.00" stroke="#f0c8c8" stroke-width="1.3" stroke-linecap="round"/>
<circle cx="67.9" cy="453.7" r="12.0" fill="url(#rg1)"/>
<circle cx="67.9" cy="453.7" r="8.8" fill="#e05656"/>
<line x1="68.15" y1="453.38" x2="73.13" y2="447.00" stroke="#f8dada" stroke-width="1.3" stroke-linecap="round"/>
<path d="M94.96,459.85A7.40,7.40 0 1 1 101.44,459.85" fill="none" stroke="#3c0404" stroke-width="6.20"/>
<text x="114.8" y="451.4" font-size="8" fill="#e6ecf2" stroke="#e6ecf2" stroke-width="0.18" textLength="12.1" lengthAdjust="spacingAndGlyphs">free</text>
<text x="114.8" y="459.6" font-size="8" fill="#e6ecf2" stroke="#e6ecf2" stroke-width="0.18" textLength="13.4" lengthAdjust="spacingAndGlyphs">sync</text>
<text x="42.7" y="483.8" font-size="10.3" fill="#c4cdd8" textLength="50.9" lengthAdjust="spacingAndGlyphs">CLOCK RATE</text>
<path d="M145.57,430.23A7.15,7.15 0 1 1 151.83,430.23" fill="none" stroke="#332c2b" stroke-width="6.50"/>
<text x="163.3" y="419.1" font-size="8" fill="#e6ecf2" stroke="#e6ecf2" stroke-width="0.18" textLength="27.9" lengthAdjust="spacingAndGlyphs">keyboard</text>
<text x="163.3" y="426.9" font-size="8" fill="#e6ecf2" stroke="#e6ecf2" stroke-width="0.18" textLength="20.2" lengthAdjust="spacingAndGlyphs">pulser</text>
<text x="163.3" y="435.0" font-size="8" fill="#e6ecf2" stroke="#e6ecf2" stroke-width="0.18" textLength="30.4" lengthAdjust="spacingAndGlyphs">sequencer</text>
<text x="127.4" y="442.4" font-size="8" fill="#e6ecf2" stroke="#e6ecf2" stroke-width="0.18" textLength="41.3" lengthAdjust="spacingAndGlyphs">trigger source</text>
<circle cx="181.7" cy="453.5" r="12.0" fill="url(#rg1)"/>
<circle cx="181.7" cy="453.5" r="8.8" fill="#e05656"/>
<line x1="181.44" y1="453.81" x2="176.24" y2="460.01" stroke="#f8dada" stroke-width="1.3" stroke-linecap="round"/>
<text x="145.9" y="484.0" font-size="10.3" fill="#c4cdd8" textLength="84.8" lengthAdjust="spacingAndGlyphs">PORTAMENTO SLOPE</text>
<circle cx="240.8" cy="432.1" r="12.0" fill="url(#rg1)"/>
<circle cx="240.8" cy="432.1" r="8.8" fill="#b01414"/>
<line x1="240.52" y1="432.38" x2="234.79" y2="438.11" stroke="#f0c8c8" stroke-width="1.3" stroke-linecap="round"/>
<circle cx="266.8" cy="453.7" r="12.0" fill="url(#rg1)"/>
<circle cx="266.8" cy="453.7" r="8.8" fill="#e05656"/>
<line x1="266.77" y1="453.30" x2="266.06" y2="445.23" stroke="#f8dada" stroke-width="1.3" stroke-linecap="round"/>
<path d="M293.56,459.65A7.40,7.40 0 1 1 300.04,459.65" fill="none" stroke="#3c0404" stroke-width="6.20"/>
<text x="311.6" y="451.4" font-size="8" fill="#e6ecf2" stroke="#e6ecf2" stroke-width="0.18" textLength="12.1" lengthAdjust="spacingAndGlyphs">free</text>
<text x="311.6" y="459.4" font-size="8" fill="#e6ecf2" stroke="#e6ecf2" stroke-width="0.18" textLength="13.4" lengthAdjust="spacingAndGlyphs">sync</text>
<text x="253.7" y="484.0" font-size="10.3" fill="#c4cdd8" textLength="131.4" lengthAdjust="spacingAndGlyphs">ARPEGGIATION RATE / PATTERN</text>
<path d="M351.41,459.54A7.50,7.50 0 0 1 354.70,445.30" fill="none" stroke="#d84a4a" stroke-width="6.40"/>
<path d="M354.70,445.30A7.50,7.50 0 0 1 357.99,459.54" fill="none" stroke="#2c0303" stroke-width="6.40"/>
<text x="370.9" y="448.1" font-size="8" fill="#e6ecf2" stroke="#e6ecf2" stroke-width="0.18" textLength="29.9" lengthAdjust="spacingAndGlyphs">ascending</text>
<text x="370.9" y="455.7" font-size="8" fill="#e6ecf2" stroke="#e6ecf2" stroke-width="0.18" textLength="22.5" lengthAdjust="spacingAndGlyphs">random</text>
<text x="370.9" y="463.1" font-size="8" fill="#e6ecf2" stroke="#e6ecf2" stroke-width="0.18" textLength="15.5" lengthAdjust="spacingAndGlyphs">none</text>
<path d="M413.61,459.54A7.50,7.50 0 0 1 416.90,445.30" fill="none" stroke="#d84a4a" stroke-width="6.40"/>
<path d="M416.90,445.30A7.50,7.50 0 0 1 420.19,459.54" fill="none" stroke="#2c0303" stroke-width="6.40"/>
<text x="433.4" y="448.1" font-size="8" fill="#e6ecf2" stroke="#e6ecf2" stroke-width="0.18" textLength="22.5" lengthAdjust="spacingAndGlyphs">octaves</text>
<text x="433.4" y="455.7" font-size="8" fill="#e6ecf2" stroke="#e6ecf2" stroke-width="0.18" textLength="19.0" lengthAdjust="spacingAndGlyphs">preset</text>
<text x="433.4" y="463.1" font-size="8" fill="#e6ecf2" stroke="#e6ecf2" stroke-width="0.18" textLength="15.5" lengthAdjust="spacingAndGlyphs">none</text>
<text x="406.5" y="483.7" font-size="10.3" fill="#c4cdd8" textLength="56.2" lengthAdjust="spacingAndGlyphs">ADD TO MAIN</text>
<text x="515.8" y="428.0" font-size="10.3" fill="#c4cdd8" textLength="106.3" lengthAdjust="spacingAndGlyphs">PRESET VOLTAGE SOURCE</text>
<circle cx="501.9" cy="445.7" r="12.0" fill="url(#rg1)"/>
<circle cx="501.9" cy="445.7" r="8.6" fill="#d94a4a"/>
<line x1="501.51" y1="445.63" x2="493.53" y2="444.22" stroke="#f8dada" stroke-width="1.3" stroke-linecap="round"/>
<circle cx="549.2" cy="445.7" r="12.0" fill="url(#rg1)"/>
<circle cx="549.2" cy="445.7" r="8.6" fill="#d94a4a"/>
<line x1="548.94" y1="446.01" x2="543.74" y2="452.21" stroke="#f8dada" stroke-width="1.3" stroke-linecap="round"/>
<circle cx="594" cy="445.7" r="12.0" fill="url(#rg1)"/>
<circle cx="594" cy="445.7" r="8.6" fill="#d94a4a"/>
<line x1="593.74" y1="446.01" x2="588.54" y2="452.21" stroke="#f8dada" stroke-width="1.3" stroke-linecap="round"/>
<circle cx="639.8" cy="445.7" r="12.0" fill="url(#rg1)"/>
<circle cx="639.8" cy="445.7" r="8.6" fill="#d94a4a"/>
<line x1="639.54" y1="446.01" x2="634.34" y2="452.21" stroke="#f8dada" stroke-width="1.3" stroke-linecap="round"/>
<rect x="490.3" y="468.9" width="160.8" height="18.7" fill="#000" stroke="#2a4244" stroke-width="1"/>
<rect x="535.3" y="469.2" width="23.2" height="18" fill="#92dcfa"/>
<circle cx="501" cy="478.2" r="0.8" fill="#3a3a3a"/>
<circle cx="590.7" cy="478.2" r="0.6" fill="#3a3a3a"/></svg>
</body></html>
